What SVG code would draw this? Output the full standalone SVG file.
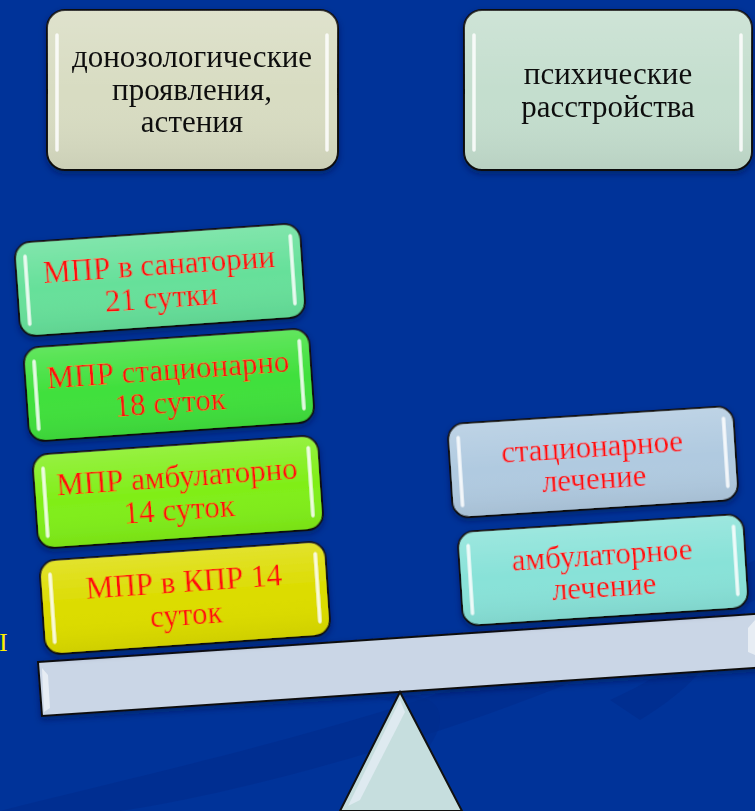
<svg xmlns="http://www.w3.org/2000/svg" width="755" height="811" viewBox="0 0 755 811">
<defs>
<linearGradient id="bg" x1="0" y1="0" x2="0" y2="1">
<stop offset="0" stop-color="#003399"/>
<stop offset="1" stop-color="#003399"/>
</linearGradient>
<linearGradient id="gloss" x1="0" y1="0" x2="0" y2="1">
<stop offset="0" stop-color="#ffffff" stop-opacity="0.18"/>
<stop offset="0.5" stop-color="#ffffff" stop-opacity="0"/>
<stop offset="1" stop-color="#000000" stop-opacity="0.06"/>
</linearGradient>
<filter id="sh" x="-10%" y="-10%" width="120%" height="130%">
<feDropShadow dx="0" dy="3" stdDeviation="3" flood-color="#001040" flood-opacity="0.5"/>
</filter>
</defs>
<style>
.box{stroke:#111;stroke-width:2;}
.hl{stroke:#ffffff;stroke-width:3.5;stroke-linecap:round;opacity:0.85;}
.tb{font-family:"Liberation Serif","DejaVu Serif",serif;font-size:31px;fill:#111;text-anchor:middle;}
.tr{font-family:"Liberation Serif","DejaVu Serif",serif;font-size:31px;fill:#ff1010;text-anchor:middle;}
</style>
<rect width="755" height="811" fill="url(#bg)"/>
<path d="M0,811 C200,760 500,700 755,560 L755,600 C520,720 260,790 120,811 Z" fill="#002c8c" opacity="0.6"/>
<path d="M610,700 C700,660 720,620 700,560 C740,600 740,660 640,720 Z" fill="#002c8c" opacity="0.6"/>
<path d="M380,700 C460,680 460,740 380,790 C420,740 420,700 380,700 Z" fill="#002c8c" opacity="0.5"/>
<text x="-1" y="651" font-family="Liberation Serif,serif" font-size="26" fill="#ffee00">I</text>

<g id="top-left" filter="url(#sh)">
<rect class="box" x="47" y="10" width="291" height="160" rx="18" fill="#d8dcc2"/>
<rect x="47" y="10" width="291" height="160" rx="18" fill="url(#gloss)"/>
<line class="hl" x1="57" y1="35" x2="57" y2="150"/>
<line class="hl" x1="327" y1="35" x2="327" y2="150"/>
<text class="tb" x="192" y="67">донозологические</text>
<text class="tb" x="192" y="100">проявления,</text>
<text class="tb" x="192" y="132">астения</text>
</g>

<g id="top-right" filter="url(#sh)">
<rect class="box" x="464" y="10" width="288" height="160" rx="18" fill="#c4dece"/>
<rect x="464" y="10" width="288" height="160" rx="18" fill="url(#gloss)"/>
<line class="hl" x1="474" y1="35" x2="474" y2="150"/>
<line class="hl" x1="741" y1="35" x2="741" y2="150"/>
<text class="tb" x="608" y="84">психические</text>
<text class="tb" x="608" y="117">расстройства</text>
</g>

<g id="beam" filter="url(#sh)">
<path d="M38,662 L770,613 L770,667 L42,716 Z" fill="#cad6e6" stroke="#111" stroke-width="2"/>
<path d="M42,668 L48,675 L50,708 L44,712 Z" fill="#eef2f8" opacity="0.8"/>
<path d="M755,620 L748,628 L748,652 L755,655 Z" fill="#eef2f8" opacity="0.8"/>
</g>

<g id="fulcrum">
<path d="M400,692 L462,811 L340,811 Z" fill="#c6dede" stroke="#111" stroke-width="2"/>
<path d="M400,700 L405,712 L360,800 L348,806 Z" fill="#e4ecf4" opacity="0.8"/>
</g>

<g id="mpr-sanatorium" transform="translate(160,280) rotate(-4)" filter="url(#sh)">
<rect class="box" x="-143" y="-47" width="286" height="94" rx="16" fill="#66e09a"/>
<rect x="-143" y="-47" width="286" height="94" rx="16" fill="url(#gloss)"/>
<line class="hl" x1="-133" y1="-33" x2="-133" y2="35"/>
<line class="hl" x1="133" y1="-35" x2="133" y2="33"/>
<text class="tr" x="0" y="-5">МПР в санатории</text>
<text class="tr" x="0" y="28">21 сутки</text>
</g>

<g id="mpr-stationary" transform="translate(169,385) rotate(-4)" filter="url(#sh)">
<rect class="box" x="-143" y="-47" width="286" height="94" rx="16" fill="#40e03c"/>
<rect x="-143" y="-47" width="286" height="94" rx="16" fill="url(#gloss)"/>
<line class="hl" x1="-133" y1="-33" x2="-133" y2="35"/>
<line class="hl" x1="133" y1="-35" x2="133" y2="33"/>
<text class="tr" x="0" y="-5">МПР стационарно</text>
<text class="tr" x="0" y="28">18 суток</text>
</g>

<g id="mpr-ambulatory" transform="translate(178,492) rotate(-4)" filter="url(#sh)">
<rect class="box" x="-143" y="-47" width="286" height="94" rx="16" fill="#80ee18"/>
<rect x="-143" y="-47" width="286" height="94" rx="16" fill="url(#gloss)"/>
<line class="hl" x1="-133" y1="-33" x2="-133" y2="35"/>
<line class="hl" x1="133" y1="-35" x2="133" y2="33"/>
<text class="tr" x="0" y="-5">МПР амбулаторно</text>
<text class="tr" x="0" y="28">14 суток</text>
</g>

<g id="mpr-kpr" transform="translate(185,598) rotate(-4)" filter="url(#sh)">
<rect class="box" x="-143" y="-47" width="286" height="94" rx="16" fill="#dcdc00"/>
<rect x="-143" y="-47" width="286" height="94" rx="16" fill="url(#gloss)"/>
<line class="hl" x1="-133" y1="-33" x2="-133" y2="35"/>
<line class="hl" x1="133" y1="-35" x2="133" y2="33"/>
<text class="tr" x="0" y="-6">МПР в КПР 14</text>
<text class="tr" x="0" y="27">суток</text>
</g>

<g id="stationary-treatment" transform="translate(593,462) rotate(-3.7)" filter="url(#sh)">
<rect class="box" x="-143" y="-47" width="286" height="94" rx="16" fill="#b0cae0"/>
<rect x="-143" y="-47" width="286" height="94" rx="16" fill="url(#gloss)"/>
<line class="hl" x1="-133" y1="-33" x2="-133" y2="35"/>
<line class="hl" x1="133" y1="-35" x2="133" y2="33"/>
<text class="tr" x="0" y="-5">стационарное</text>
<text class="tr" x="0" y="27">лечение</text>
</g>

<g id="ambulatory-treatment" transform="translate(603,570) rotate(-3.7)" filter="url(#sh)">
<rect class="box" x="-143" y="-47" width="286" height="94" rx="16" fill="#88e2d8"/>
<rect x="-143" y="-47" width="286" height="94" rx="16" fill="url(#gloss)"/>
<line class="hl" x1="-133" y1="-33" x2="-133" y2="35"/>
<line class="hl" x1="133" y1="-35" x2="133" y2="33"/>
<text class="tr" x="0" y="-5">амбулаторное</text>
<text class="tr" x="0" y="27">лечение</text>
</g>
</svg>
